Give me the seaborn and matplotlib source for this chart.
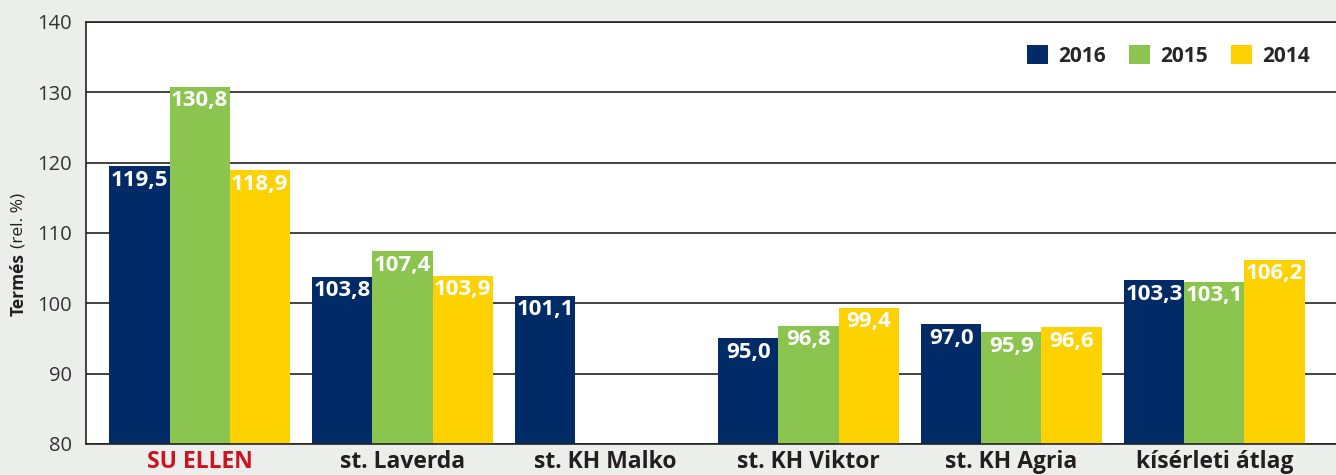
import numpy as np
import pandas as pd
import matplotlib.pyplot as plt
import seaborn as sns

# values (rel. %)
varieties = ['SU ELLEN', 'st. Laverda', 'st. KH Malko', 'st. KH Viktor', 'st. KH Agria', 'kísérleti átlag']
years = ['2016', '2015', '2014']
y2016 = [119.5, 103.8, 101.1, 95.0, 97.0, 103.3]
y2015 = [130.8, 107.4, np.nan, 96.8, 95.9, 103.1]
y2014 = [118.9, 103.9, np.nan, 99.4, 96.6, 106.2]
yticks = [80, 90, 100, 110, 120, 130, 140]

colors = ['#002b66', '#8bc550', '#fdd200']

df = pd.DataFrame({'fajta': varieties * 3,
                   'ev': [y for y in years for _ in varieties],
                   'termes': y2016 + y2015 + y2014})

sns.set_style('white')
plt.rcParams['font.family'] = ['Open Sans', 'DejaVu Sans']

fig = plt.figure(figsize=(13.36, 4.75), dpi=100, facecolor='#eceeec')
ax = fig.add_axes([0.0644, 0.0653, 0.9356, 0.8884])
ax.set_facecolor('white')

sns.barplot(data=df, x='fajta', y='termes', hue='ev', hue_order=years,
            palette=colors, width=0.89, saturation=1, errorbar=None,
            linewidth=0, ax=ax)

ax.set_ylim(80, 140)
ax.set_xlim(-0.56, 5.6)
ax.set_yticks(yticks)
ax.yaxis.grid(True, color='#222222', linewidth=1.2)
ax.set_axisbelow(True)
ax.tick_params(axis='both', length=0)
ax.tick_params(axis='y', labelsize=14.5, labelcolor='#333333', pad=10)
ax.tick_params(axis='x', labelsize=16.5, pad=4)
for lab in ax.get_xticklabels():
    lab.set_fontweight('bold')
    lab.set_color('#231f20')
ax.get_xticklabels()[0].set_color('#cc1421')
ax.set_xlabel('')
ax.set_ylabel('')

for side in ['left', 'top', 'bottom']:
    ax.spines[side].set_color('#222222')
    ax.spines[side].set_linewidth(1.2)
ax.spines['right'].set_visible(False)

# value labels inside the bar tops
for cont in ax.containers:
    for p in cont:
        h = p.get_height()
        if np.isnan(h):
            continue
        ax.text(p.get_x() + p.get_width() / 2, h - 0.5,
                f'{h:.1f}'.replace('.', ','), ha='center', va='top',
                color='white', fontsize=16, fontweight='bold')

sns.move_legend(ax, 'center right', bbox_to_anchor=(0.994, 0.919), ncol=3,
                frameon=False, title=None, handlelength=1.0, handleheight=1.0,
                handletextpad=0.5, columnspacing=1.1,
                prop={'weight': 'bold', 'size': 15})

fig.text(0.014, 1 - 316 / 475, 'Termés', rotation=90, ha='center', va='bottom',
         fontsize=12.5, fontweight='bold', color='#231f20')
fig.text(0.014, 1 - 248 / 475, '(rel. %)', rotation=90, ha='center', va='bottom',
         fontsize=12.5, color='#231f20')

fig.savefig('out.png', dpi=100, facecolor=fig.get_facecolor())
